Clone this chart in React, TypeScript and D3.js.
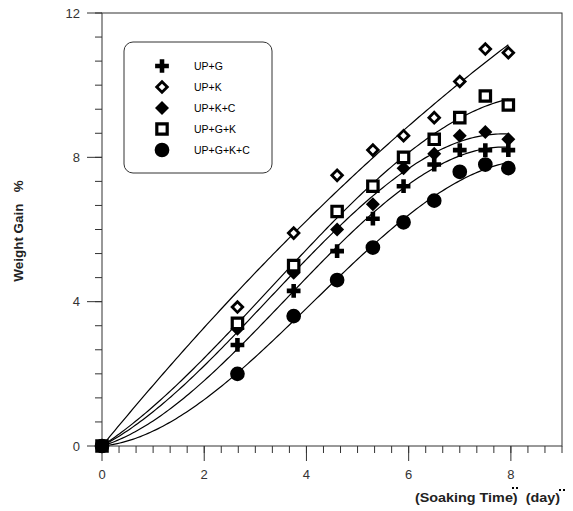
import React from 'react';
import * as d3 from 'd3';

// soaking time (day) and weight gain (%) for each treatment, origin added below
const days = [2.65, 3.75, 4.6, 5.3, 5.9, 6.5, 7.0, 7.5, 7.95];
const upG = [2.8, 4.3, 5.4, 6.3, 7.2, 7.8, 8.2, 8.2, 8.2];
const upK = [3.85, 5.9, 7.5, 8.2, 8.6, 9.1, 10.1, 11.0, 10.9];
const upKC = [3.25, 4.8, 6.0, 6.7, 7.7, 8.1, 8.6, 8.7, 8.5];
const upGK = [3.4, 5.0, 6.5, 7.2, 8.0, 8.5, 9.1, 9.7, 9.45];
const upGKC = [2.0, 3.6, 4.6, 5.5, 6.2, 6.8, 7.6, 7.8, 7.7];

const seriesNames = ['UP+G', 'UP+K', 'UP+K+C', 'UP+G+K', 'UP+G+K+C'];
const seriesValues = [upG, upK, upKC, upGK, upGKC];
const markerKinds = ['plus', 'openDiamond', 'diamond', 'openSquare', 'circle'];
// polynomial order of each regression curve (through the origin)
const fitOrders = [3, 2, 3, 3, 3];

const xTicks = [0, 2, 4, 6, 8];
const yTicks = [0, 4, 8, 12];

const width = 573;
const height = 511;

const x = d3.scaleLinear().domain([0, 9]).range([102, 562]);
const y = d3.scaleLinear().domain([0, 12]).range([446, 13]);

// least squares y = a1 x + a2 x^2 + ... (no intercept)
function polyFit(xs: number[], ys: number[], order: number) {
  const n = order;
  const m: number[][] = d3.range(n).map(() => d3.range(n + 1).map(() => 0));
  xs.forEach((xv, k) => {
    const p = d3.range(n).map((i) => Math.pow(xv, i + 1));
    for (let i = 0; i < n; i++) {
      for (let j = 0; j < n; j++) m[i][j] += p[i] * p[j];
      m[i][n] += p[i] * ys[k];
    }
  });
  for (let i = 0; i < n; i++) {
    for (let r = i + 1; r < n; r++) {
      const f = m[r][i] / m[i][i];
      for (let c = i; c <= n; c++) m[r][c] -= f * m[i][c];
    }
  }
  const s = d3.range(n).map(() => 0);
  for (let i = n - 1; i >= 0; i--) {
    let v = m[i][n];
    for (let j = i + 1; j < n; j++) v -= m[i][j] * s[j];
    s[i] = v / m[i][i];
  }
  return (t: number) => s.reduce((acc, c, i) => acc + c * Math.pow(t, i + 1), 0);
}

function Marker({ kind, cx, cy }: { kind: string; cx: number; cy: number }) {
  const t = `translate(${cx},${cy})`;
  if (kind === 'plus')
    return <path transform={t} d={d3.symbol(d3.symbolCross, 105)()!} fill="#000" />;
  if (kind === 'circle')
    return <path transform={t} d={d3.symbol(d3.symbolCircle, 170)()!} fill="#000" />;
  if (kind === 'diamond')
    return <path transform={t + ' rotate(45)'} d={d3.symbol(d3.symbolSquare, 98)()!} fill="#000" />;
  if (kind === 'openDiamond')
    return (
      <path transform={t + ' rotate(45)'} d={d3.symbol(d3.symbolSquare, 56)()!}
        fill="#fff" stroke="#000" strokeWidth={2.8} />
    );
  return (
    <path transform={t} d={d3.symbol(d3.symbolSquare, 108)()!}
      fill="#fff" stroke="#000" strokeWidth={3.2} />
  );
}

export default function App() {
  const xMinor = d3.range(0, 28).map((i) => i / 3);
  const yMinor = d3.range(0, 19).map((i) => (i * 2) / 3);
  const lineGen = d3
    .line<[number, number]>()
    .x((d) => x(d[0]))
    .y((d) => y(d[1]));

  const fits = seriesValues.map((vals, si) => {
    const f = polyFit([0, ...days], [0, ...vals], fitOrders[si]);
    const xs = d3.range(0, days[days.length - 1] + 0.001, 0.05);
    return lineGen(xs.map((t) => [t, f(t)] as [number, number]));
  });

  return (
    <svg width={width} height={height} style={{ position: 'absolute', left: 0, top: 0, background: '#fff' }}
      fontFamily="'Liberation Sans', Arial, sans-serif">
      {/* frame */}
      <rect x={x(0)} y={y(12)} width={x(9) - x(0)} height={y(0) - y(12)} fill="none" stroke="#333" strokeWidth={1} />

      {/* x ticks */}
      {xMinor.map((v, i) => (
        <line key={'xm' + i} x1={x(v)} x2={x(v)} y1={y(0)} y2={y(0) + 7} stroke="#333" />
      ))}
      {xTicks.map((v) => (
        <g key={'xt' + v}>
          <line x1={x(v)} x2={x(v)} y1={y(0)} y2={y(0) + 15} stroke="#333" />
          <text x={x(v)} y={y(0) + 33} textAnchor="middle" fontSize={13} fill="#333">{v}</text>
        </g>
      ))}

      {/* y ticks */}
      {yMinor.map((v, i) => (
        <line key={'ym' + i} x1={x(0) - 7} x2={x(0)} y1={y(v)} y2={y(v)} stroke="#333" />
      ))}
      {yTicks.map((v) => (
        <g key={'yt' + v}>
          <line x1={x(0) - 15} x2={x(0)} y1={y(v)} y2={y(v)} stroke="#333" />
          <text x={x(0) - 22} y={y(v) + 4.5} textAnchor="end" fontSize={13} fill="#333">{v}</text>
        </g>
      ))}

      {/* titles */}
      <text transform="translate(560,502) scale(1.15,1)" textAnchor="end" fontSize={12.5}
        fontWeight="bold" fill="#222" style={{ whiteSpace: 'pre' }}>
        {'(Soaking Time)  (day)'}
      </text>
      {/* stray dots above the axis title */}
      <rect x={512} y={487} width={2} height={2} fill="#000" />
      <rect x={516} y={487} width={2} height={2} fill="#000" />
      <rect x={559} y={489} width={2} height={2} fill="#000" />
      <rect x={563} y={489} width={2} height={2} fill="#000" />
      <text transform="translate(23,231) rotate(-90) scale(1.12,1)" textAnchor="middle" fontSize={12}
        fontWeight="bold" fill="#222" style={{ whiteSpace: 'pre' }}>
        {'Weight Gain   %'}
      </text>

      {/* fitted curves */}
      {fits.map((d, i) => (
        <path key={'f' + i} d={d ?? ''} fill="none" stroke="#000" strokeWidth={1.2} />
      ))}

      {/* markers */}
      {seriesValues.map((vals, si) =>
        [0, ...vals].map((v, k) => (
          <Marker key={si + '-' + k} kind={markerKinds[si]} cx={x(k === 0 ? 0 : days[k - 1])} cy={y(v)} />
        ))
      )}

      {/* legend */}
      <rect x={124} y={42} width={148} height={131} rx={9} fill="#fff" stroke="#333" strokeWidth={1} />
      {seriesNames.map((name, i) => (
        <g key={'lg' + i}>
          <Marker kind={markerKinds[i]} cx={162} cy={66 + i * 21} />
          <text x={194} y={66 + i * 21 + 4} fontSize={10.5} fill="#000">{name}</text>
        </g>
      ))}
    </svg>
  );
}
